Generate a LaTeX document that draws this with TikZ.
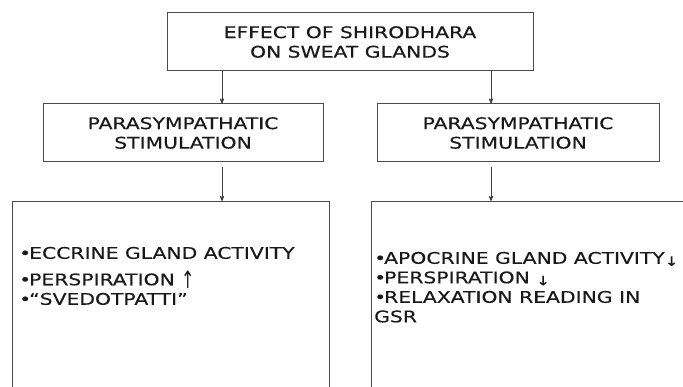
\documentclass[tikz,border=0pt]{standalone}
\usepackage{fontspec}
\newfontfamily\verd[FakeStretch=1.27, FakeBold=0.3]{DejaVu Sans}
\newfontfamily\verdthin{DejaVu Sans}
\usepackage{tikz}
\usetikzlibrary{arrows, calc}
\newcommand{\bul}{•\kern-2pt}
\newcommand{\upar}{\raisebox{-3pt}{\scalebox{1}[1.5]{\verdthin↑}}}
\newcommand{\dnar}{\raisebox{-2pt}{\fontsize{13}{15}\selectfont↓}}
\tikzset{
  headbox/.style={draw=black!70, line width=1pt, minimum height=58pt,
                  inner sep=0pt, align=center, text=black!90},
  listbox/.style={draw=black!70, line width=1pt, inner sep=0pt},
  listtext/.style={anchor=north west, inner sep=0pt, align=left, text=black!90},
  arrow/.style={-stealth', line width=0.8pt, draw=black!75},
}

\begin{document}
\begin{tikzpicture}[x=1pt, y=-1pt, font=\verd\fontsize{16}{19.5}\selectfont]
  \useasboundingbox (0,0) rectangle (683,387);
  \clip (0,0) rectangle (683,387);

  % Header
  \node[headbox, minimum width=366pt] (effect) at (350,42)
    {EFFECT OF SHIRODHARA\\ON SWEAT GLANDS};

  % Stimulation boxes
  \node[headbox, minimum width=280pt] (stimL) at (183,133)
    {PARASYMPATHATIC\\STIMULATION};
  \node[headbox, minimum width=282pt] (stimR) at (518,133)
    {PARASYMPATHATIC\\STIMULATION};

  % Lists (boxes run past the page edge)
  \node[listbox, minimum width=317pt, minimum height=200pt, anchor=north west]
    (eccrine) at (12,201) {};
  \node[listbox, minimum width=330pt, minimum height=200pt, anchor=north west]
    (apocrine) at (371,201) {};

  \node[listtext] (eccrineTxt) at (19,246.7)
    {\bul ECCRINE GLAND ACTIVITY\\[7pt]\bul PERSPIRATION \upar\\\bul “SVEDOTPATTI”};
  \node[listtext] (apocrineTxt) at (374,251.7)
    {\bul APOCRINE GLAND ACTIVITY\dnar\\\bul PERSPIRATION \dnar\\
     \bul RELAXATION READING IN\\GSR};

  % Arrows
  \coordinate (colL) at (222,0);
  \coordinate (colR) at (491,0);
  \draw[arrow] (effect.south -| colL) -- (stimL.north -| colL);
  \draw[arrow] (effect.south -| colR) -- (stimR.north -| colR);
  \draw[arrow, shorten <=5pt] (stimL.south -| colL) -- (eccrine.north -| colL);
  \draw[arrow, shorten <=5pt] (stimR.south -| colR) -- (apocrine.north -| colR);

\end{tikzpicture}
\end{document}
